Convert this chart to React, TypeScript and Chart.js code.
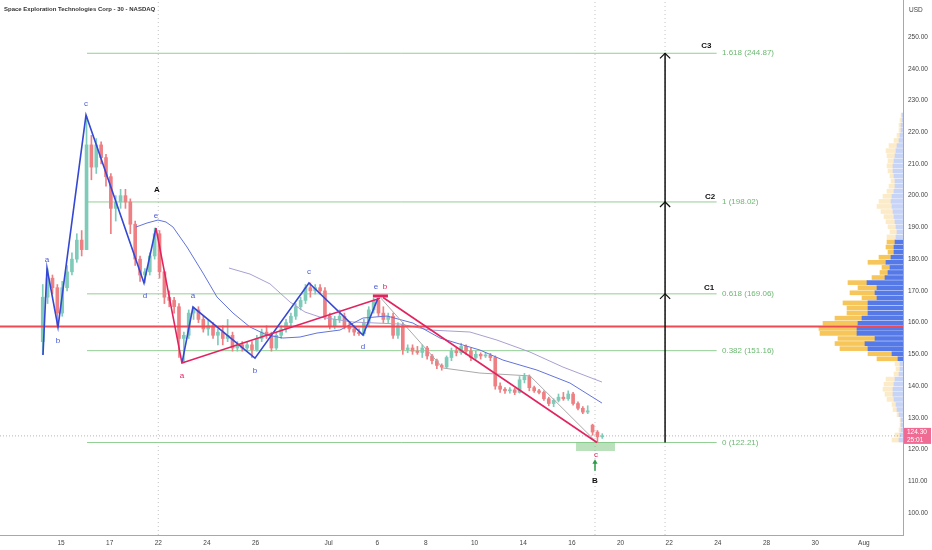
import React, { useEffect, useRef } from "react";
import { Chart, registerables } from "chart.js";

Chart.register(...registerables);

// ---------- text ----------
const TITLE = "Space Exploration Technologies Corp - 30 - NASDAQ";
const CURRENCY = "USD";
const LAST_PRICE = 124.3;
const LAST_TIMER = "25:01";

// ---------- axes ----------
const X_MIN = -1.507;
const X_MAX = 35.61;
const Y_MIN = 93.07;
const Y_MAX = 261.66;
const dayTicks = [1, 3, 5, 7, 9, 12, 14, 16, 18, 20, 22, 24, 26, 28, 30, 32, 34];
const dayTickLabels = ["15", "17", "22", "24", "26", "Jul", "6", "8", "10", "14", "16", "20", "22", "24", "28", "30", "Aug"];
const priceTicks = [100, 110, 120, 130, 140, 150, 160, 170, 180, 190, 200, 210, 220, 230, 240, 250];

// ---------- candles (30 min, sampled) ----------
const CANDLE_START = 0.25;
const CANDLE_STEP = 0.2;
const opens = [154, 168, 174, 171, 163, 171, 176, 180, 186, 183, 216, 209, 216, 212, 206, 196, 198, 200, 198, 191, 180, 175, 176, 181, 188, 176, 168, 167, 165, 155, 156, 163, 164, 161, 158, 159, 156, 157, 155, 156, 152, 153, 152, 153, 151.5, 155, 157, 156, 152, 156, 158, 160, 162, 165, 167, 171, 170, 171, 170, 162, 159, 161, 162, 159, 158, 157, 156.5, 160, 164, 167, 163, 161, 162, 156, 159, 151.5, 152, 151, 150.6, 152, 149.5, 148, 146.5, 146, 149, 151, 150.5, 152.5, 151, 149, 150, 149.5, 149.7, 149, 140, 139, 138.5, 138.8, 138, 142, 143, 139.5, 138.5, 138, 136, 134.5, 135.5, 136.5, 136, 137.5, 134.5, 133, 131.8, 127.7, 125.5, 124];
const highs = [172, 177, 175, 172, 173, 178, 182, 188, 189, 225, 219, 218, 217, 213, 207, 200, 202, 202, 199, 192, 181, 177, 182, 189.8, 189, 176, 170, 168, 166, 157, 164, 164.9, 165, 162, 161, 160, 158, 159, 161, 157, 154, 154, 154, 154, 156, 158, 159, 157, 157, 159, 161, 163, 166, 168, 172, 172.5, 172, 172, 171, 163, 162, 164, 163, 160, 159, 158, 161, 165, 167.7, 167.7, 165, 163, 163, 160, 160, 153, 153, 152.5, 153, 152.5, 150, 148.5, 147, 149.5, 152, 152, 153.5, 153, 152, 151, 150.5, 150.5, 150.3, 149.5, 141, 139.5, 139.5, 139.3, 143, 144, 143.5, 140, 139, 138.5, 136.5, 136, 137.5, 138, 138.5, 138, 135, 133.5, 133.8, 128, 126, 125];
const lows = [150, 166, 169, 158.6, 162, 170, 175, 179, 181, 183, 205, 207, 210, 203, 188, 192, 196, 196, 188, 178, 173, 172.5, 175, 180, 174, 166, 165, 163, 149, 147.3, 155, 161, 160, 157, 156, 155, 153, 153, 154, 151, 151, 151, 151, 149, 151, 154, 155, 151, 151.5, 155, 157, 159, 161, 164, 166, 168, 169, 169, 161, 158, 158, 160, 158, 157, 156, 156, 156, 159, 163, 162, 160, 160, 155, 155, 150, 150.5, 150, 150, 149, 148.5, 147, 145.5, 145, 145.5, 148, 149.5, 150, 150, 148, 148.5, 148.5, 149, 148, 139, 138, 137.7, 137.8, 137.3, 137.8, 141, 138.5, 138, 137.5, 135.5, 133.8, 133.5, 135, 135.5, 135.5, 134, 132.5, 131.3, 131.3, 124.5, 122.2, 123.5];
const closes = [168, 174, 171, 163, 171, 176, 180, 186, 183, 216, 209, 216, 212, 206, 196, 198, 200, 198, 191, 180, 175, 176, 181, 188, 176, 168, 167, 165, 155, 156, 163, 164, 161, 158, 159, 156, 157, 155, 156, 152, 153, 152, 153, 151.5, 155, 157, 156, 152, 156, 158, 160, 162, 165, 167, 171, 170, 171, 170, 162, 159, 161, 162, 159, 158, 157, 156.5, 160, 164, 167, 163, 161, 162, 156, 159, 151.5, 152, 151, 150.6, 152, 149.5, 148, 146.5, 146, 149, 151, 150.5, 152.5, 151, 149, 150, 149.5, 149.7, 149, 140, 139, 138.5, 138.8, 138, 142, 143, 139.5, 138.5, 138, 136, 134.5, 135.5, 136.5, 136, 137.5, 134.5, 133, 131.8, 132.2, 125.5, 124, 124.3];

// ---------- moving averages ----------
const maBlueDays = [4.083, 4.535, 4.987, 5.316, 5.603, 6.179, 6.836, 7.412, 8.069, 8.768, 9.467, 10.124, 10.823, 11.522, 12.467, 13.413, 14.399, 15.468, 16.577, 17.523, 18.222, 19.167, 20.564, 21.921, 23.236];
const maBlueValues = [190.12, 191.38, 192.32, 191.7, 190.12, 183.82, 175.62, 168.06, 163.02, 158.61, 156.08, 155.14, 155.45, 156.71, 157.66, 161.44, 162.07, 159.86, 155.14, 152.93, 151.35, 148.2, 145.05, 140.96, 134.65];
const maPurpleDays = [7.905, 8.768, 9.59, 10.412, 11.029, 11.645, 13.002, 14.933, 16.166, 17.81, 18.92, 20.277, 21.633, 23.236];
const maPurpleValues = [177.2, 175.3, 172.2, 166.5, 163.33, 161.75, 160.18, 159.55, 157.66, 157.03, 154.5, 150.72, 145.99, 141.27];

// ---------- wave drawings ----------
const blueWave1Days = [0.26, 0.425, 0.877, 2.028, 4.411, 4.905];
const blueWave1Prices = [149.78, 177.2, 158.6, 225.4, 172.5, 189.8];
const blueWave2Days = [5.973, 6.425, 8.974, 11.193, 13.413, 14.029];
const blueWave2Prices = [147.26, 164.9, 148.8, 172.5, 156.1, 167.7];
const redWaveDays = [4.905, 5.973, 14.11];
const redWavePrices = [189.8, 147.26, 167.7];
const redDropDays = [14.24, 23.03];
const redDropPrices = [167.9, 122.21];
const redCapDays = [13.82, 14.44];
const redCapPrice = 168.4;
const greyTrendDays = [14.15, 16.7, 18.22, 20.28, 23.03];
const greyTrendPrices = [167.7, 145.7, 144.1, 143.2, 122.21];

// ---------- fibonacci ----------
const fibRatios = ["1.618", "1", "0.618", "0.382", "0"];
const fibPrices = [244.87, 198.02, 169.06, 151.16, 122.21];
const FIB_FROM = 2.07;
const FIB_TO = 27.95;
const FIB_LABEL_DAY = 28.17;
const targetLabels = ["C3", "C2", "C1"];
const targetDays = [27.53, 27.68, 27.64];
const targetPrices = [247.16, 199.67, 170.9];
const ARROW_DAY = 25.83;
const chevronLevels = [244.87, 198.02, 169.06];
const RED_LEVEL_PRICE = 158.8;
const vLineDays = [5, 22.95, 25.83];
const zoneDays = [22.17, 23.77];
const zoneTop = 122.21;
const zoneBottom = 119.53;
const upArrowDay = 22.95;
const upArrowPrices = [113.3, 116.0];

// ---------- labels ----------
const blueLabelText = ["a", "b", "c", "d", "e", "a", "b", "c", "d", "e"];
const blueLabelDays = [0.425, 0.877, 2.028, 4.452, 4.905, 6.425, 8.974, 11.193, 13.413, 13.947];
const blueLabelPrices = [179.7, 154.2, 228.9, 168.4, 193.6, 168.4, 144.7, 175.9, 152.3, 171.2];
const redLabelText = ["a", "b", "c"];
const redLabelDays = [5.973, 14.317, 22.99];
const redLabelPrices = [143.2, 171.2, 118.3];
const blackLabelText = ["A", "B"];
const blackLabelDays = [4.946, 22.95];
const blackLabelPrices = [201.8, 110.1];

// ---------- volume profile ----------
const profilePrice = [225.4, 223.8, 222.2, 220.6, 219.0, 217.4, 215.8, 214.2, 212.6, 211.0, 209.4, 207.8, 206.2, 204.6, 203.0, 201.4, 199.8, 198.2, 196.6, 195.0, 193.4, 191.8, 190.2, 188.6, 187.0, 185.4, 183.8, 182.2, 180.6, 179.0, 177.4, 175.8, 174.2, 172.6, 171.0, 169.4, 167.8, 166.2, 164.6, 163.0, 161.4, 159.8, 158.2, 156.6, 155.0, 153.4, 151.8, 150.2, 148.6, 147.0, 145.4, 143.8, 142.2, 140.6, 139.0, 137.4, 135.8, 134.2, 132.6, 131.0, 129.4, 127.8, 126.2, 124.6, 123.0];
const profileUp = [1, 1, 2, 2, 3, 4, 6, 7, 8, 9, 10, 10, 9, 8, 8, 9, 11, 12, 11, 10, 9, 8, 7, 6, 7, 8, 9, 9, 12, 17, 13, 15, 18, 36, 26, 28, 26, 35, 35, 35, 41, 45, 46, 46, 28, 38, 35, 11, 5, 3, 3, 4, 8, 9, 10, 10, 9, 7, 6, 4, 2, 2, 2, 3, 4];
const profileDown = [1, 2, 2, 2, 3, 5, 8, 10, 8, 6, 6, 5, 4, 4, 6, 7, 9, 12, 15, 12, 10, 9, 8, 7, 9, 8, 8, 6, 12, 18, 8, 8, 13, 19, 19, 25, 15, 25, 21, 21, 27, 35, 38, 37, 37, 30, 28, 24, 21, 5, 4, 5, 9, 10, 10, 8, 7, 4, 4, 2, 1, 1, 2, 5, 7];
const VALUE_AREA_LOW = 148;
const VALUE_AREA_HIGH = 186;
const PROFILE_SCALE_MAX = 903;

// ---------- styles ----------
const FONT = '"Liberation Sans", Arial, sans-serif';
const UP = "#7fcbb9";
const DOWN = "#ee7f83";
const BLUE_WAVE = "#3548d4";
const RED_WAVE = "#e2235f";
const BLUE_LABEL = "#4a5ad8";
const MA_BLUE = "#6273dc";
const MA_PURPLE = "#aa9fd0";
const GREY_TREND = "#a9a9a9";
const FIB = "#93cf95";
const FIB_TEXT = "#6db872";
const RED_LEVEL = "#ee4a54";

function pts(xs: number[], ys: number[]) {
  return xs.map((x, i) => ({ x, y: ys[i] }));
}

function lineDs(data: any[], color: string, width: number, order: number, extra: any = {}) {
  return {
    type: "line",
    data,
    borderColor: color,
    backgroundColor: color,
    borderWidth: width,
    pointRadius: 0,
    pointHoverRadius: 0,
    fill: false,
    tension: 0,
    xAxisID: "x",
    yAxisID: "y",
    order,
    ...extra,
  };
}

const labelPlugin = {
  id: "waveLabels",
  afterDatasetsDraw(chart: any) {
    const { ctx } = chart;
    const xs = chart.scales.x;
    const ys = chart.scales.y;
    ctx.save();
    ctx.textAlign = "center";
    ctx.textBaseline = "middle";
    ctx.font = `8px ${FONT}`;
    ctx.fillStyle = BLUE_LABEL;
    blueLabelText.forEach((t, i) => {
      ctx.fillText(t, xs.getPixelForValue(blueLabelDays[i]), ys.getPixelForValue(blueLabelPrices[i]));
    });
    ctx.fillStyle = RED_WAVE;
    redLabelText.forEach((t, i) => {
      ctx.fillText(t, xs.getPixelForValue(redLabelDays[i]), ys.getPixelForValue(redLabelPrices[i]));
    });
    ctx.fillStyle = "#111";
    ctx.font = `bold 8px ${FONT}`;
    blackLabelText.forEach((t, i) => {
      ctx.fillText(t, xs.getPixelForValue(blackLabelDays[i]), ys.getPixelForValue(blackLabelPrices[i]));
    });
    targetLabels.forEach((t, i) => {
      ctx.fillText(t, xs.getPixelForValue(targetDays[i]), ys.getPixelForValue(targetPrices[i]));
    });
    ctx.textAlign = "left";
    ctx.font = `8px ${FONT}`;
    ctx.fillStyle = FIB_TEXT;
    fibRatios.forEach((r, i) => {
      ctx.fillText(`${r} (${fibPrices[i].toFixed(2)})`, xs.getPixelForValue(FIB_LABEL_DAY), ys.getPixelForValue(fibPrices[i]));
    });
    ctx.restore();
  },
  afterDraw(chart: any) {
    const { ctx, chartArea, width } = chart;
    const ys = chart.scales.y;
    ctx.save();
    ctx.textBaseline = "middle";
    ctx.textAlign = "left";
    ctx.fillStyle = "#333";
    ctx.font = `bold 6px ${FONT}`;
    ctx.fillText(TITLE, 4, 9);
    ctx.font = `6.5px ${FONT}`;
    ctx.fillStyle = "#444";
    ctx.fillText(CURRENCY, chartArea.right + 6, 10);
    const py = ys.getPixelForValue(LAST_PRICE);
    ctx.fillStyle = "#ef6b93";
    ctx.fillRect(chartArea.right + 1, py - 8, width - chartArea.right - 2, 16);
    ctx.fillStyle = "#fff";
    ctx.fillText(LAST_PRICE.toFixed(2), chartArea.right + 4, py - 3.5);
    ctx.fillText(LAST_TIMER, chartArea.right + 4, py + 4);
    ctx.restore();
  },
};

export default function App() {
  const ref = useRef<HTMLCanvasElement>(null);

  useEffect(() => {
    const canvas = ref.current;
    if (!canvas) return;

    const candleDays = opens.map((_, i) => CANDLE_START + i * CANDLE_STEP);
    const candleColors = opens.map((o, i) => (closes[i] >= o ? UP : DOWN));
    const inVA = (p: number) => p >= VALUE_AREA_LOW && p <= VALUE_AREA_HIGH;

    const datasets: any[] = [];

    // volume profile (horizontal floating bars from the price axis)
    datasets.push({
      type: "bar",
      indexAxis: "y",
      xAxisID: "xv",
      yAxisID: "y",
      data: profilePrice.map((p, i) => ({ y: p, x: [0, profileUp[i]] })),
      backgroundColor: profilePrice.map((p) => (inVA(p) ? "#5679e8" : "#c8d4f6")),
      barThickness: 4,
      grouped: false,
      order: 30,
    });
    datasets.push({
      type: "bar",
      indexAxis: "y",
      xAxisID: "xv",
      yAxisID: "y",
      data: profilePrice.map((p, i) => ({ y: p, x: [profileUp[i], profileUp[i] + profileDown[i]] })),
      backgroundColor: profilePrice.map((p) => (inVA(p) ? "#f7c65a" : "#fcebc9")),
      barThickness: 4,
      grouped: false,
      order: 30,
    });

    // vertical dotted guides
    vLineDays.forEach((d) => {
      datasets.push(lineDs(pts([d, d], [Y_MIN, Y_MAX]), "#c4c4c4", 1, 28, { borderDash: [1, 3] }));
    });
    // last price dotted line
    datasets.push(lineDs(pts([X_MIN, X_MAX], [LAST_PRICE, LAST_PRICE]), "rgba(150,150,150,0.7)", 1, 27, { borderDash: [1, 2] }));

    // fib levels
    fibPrices.forEach((p) => {
      datasets.push(lineDs(pts([FIB_FROM, FIB_TO], [p, p]), FIB, 1, 26));
    });
    // green zone
    datasets.push(lineDs(pts(zoneDays, [zoneTop, zoneTop]), "rgba(0,0,0,0)", 0, 25, {
      fill: { value: zoneBottom },
      backgroundColor: "rgba(102,187,106,0.45)",
    }));

    // candles
    datasets.push({
      type: "bar",
      xAxisID: "x",
      yAxisID: "y",
      data: candleDays.map((d, i) => ({ x: d, y: [lows[i], highs[i]] })),
      backgroundColor: candleColors,
      barThickness: 1,
      grouped: false,
      order: 20,
    });
    datasets.push({
      type: "bar",
      xAxisID: "x",
      yAxisID: "y",
      data: candleDays.map((d, i) => ({ x: d, y: [opens[i], closes[i]] })),
      backgroundColor: candleColors,
      barThickness: 3,
      minBarLength: 1,
      grouped: false,
      order: 19,
    });

    // moving averages & trend
    datasets.push(lineDs(pts(maPurpleDays, maPurpleValues), MA_PURPLE, 1, 15));
    datasets.push(lineDs(pts(maBlueDays, maBlueValues), MA_BLUE, 1, 14));
    datasets.push(lineDs(pts(greyTrendDays, greyTrendPrices), GREY_TREND, 1, 13));

    // red horizontal level
    datasets.push(lineDs(pts([X_MIN, X_MAX], [RED_LEVEL_PRICE, RED_LEVEL_PRICE]), RED_LEVEL, 2, 10));

    // waves
    datasets.push(lineDs(pts(blueWave1Days, blueWave1Prices), BLUE_WAVE, 1.6, 6));
    datasets.push(lineDs(pts(blueWave2Days, blueWave2Prices), BLUE_WAVE, 1.6, 6));
    datasets.push(lineDs(pts(redWaveDays, redWavePrices), RED_WAVE, 1.6, 5));
    datasets.push(lineDs(pts(redDropDays, redDropPrices), RED_WAVE, 1.6, 5));
    datasets.push(lineDs(pts(redCapDays, [redCapPrice, redCapPrice]), RED_WAVE, 3, 5));

    // target arrow
    datasets.push(lineDs(pts([ARROW_DAY, ARROW_DAY], [fibPrices[4], fibPrices[0]]), "#111", 1.5, 3));
    chevronLevels.forEach((lv) => {
      datasets.push(lineDs(pts([ARROW_DAY - 0.21, ARROW_DAY, ARROW_DAY + 0.21], [lv - 1.6, lv, lv - 1.6]), "#111", 1.2, 3));
    });

    // green up arrow
    datasets.push(lineDs(pts([upArrowDay, upArrowDay], upArrowPrices), "#2a9d46", 1.5, 3));
    datasets.push(lineDs([{ x: upArrowDay, y: upArrowPrices[1] }], "#2a9d46", 0, 3, {
      showLine: false,
      pointRadius: 3,
      pointStyle: "triangle",
      pointBackgroundColor: "#2a9d46",
      pointBorderColor: "#2a9d46",
    }));

    const chart = new Chart(canvas, {
      type: "line",
      data: { datasets },
      plugins: [labelPlugin],
      options: {
        animation: false,
        responsive: false,
        maintainAspectRatio: false,
        layout: { padding: 0, autoPadding: false },
        events: [],
        plugins: { legend: { display: false }, tooltip: { enabled: false } },
        scales: {
          x: {
            type: "linear",
            position: "bottom",
            min: X_MIN,
            max: X_MAX,
            offset: false,
            grid: { display: false, drawTicks: false, offset: false },
            border: { display: true, color: "#a8a8a8" },
            afterBuildTicks: (axis: any) => {
              axis.ticks = dayTicks.map((v) => ({ value: v }));
            },
            afterFit: (axis: any) => {
              axis.height = 15;
              axis.paddingLeft = 0;
              axis.paddingRight = 0;
            },
            ticks: {
              autoSkip: false,
              maxRotation: 0,
              padding: 4,
              color: "#444",
              font: { family: FONT, size: 6.5 },
              callback: (v: any) => {
                const k = dayTicks.indexOf(Number(v));
                return k >= 0 ? dayTickLabels[k] : "";
              },
            },
          },
          xv: {
            type: "linear",
            axis: "x",
            display: false,
            reverse: true,
            offset: false,
            min: 0,
            max: PROFILE_SCALE_MAX,
          },
          y: {
            type: "linear",
            position: "right",
            min: Y_MIN,
            max: Y_MAX,
            offset: false,
            grid: { display: false, drawTicks: false, offset: false },
            border: { display: true, color: "#a8a8a8" },
            afterBuildTicks: (axis: any) => {
              axis.ticks = priceTicks.map((v) => ({ value: v }));
            },
            afterFit: (axis: any) => {
              axis.width = 29;
              axis.paddingTop = 0;
              axis.paddingBottom = 0;
            },
            ticks: {
              padding: 5,
              color: "#444",
              font: { family: FONT, size: 6.5 },
              callback: (v: any) => Number(v).toFixed(2),
            },
          },
        },
      } as any,
    } as any);

    return () => chart.destroy();
  }, []);

  return (
    <div style={{ position: "fixed", left: 0, top: 0, width: 932, height: 550, background: "#fff" }}>
      <canvas ref={ref} width={932} height={550} style={{ display: "block" }} />
    </div>
  );
}
